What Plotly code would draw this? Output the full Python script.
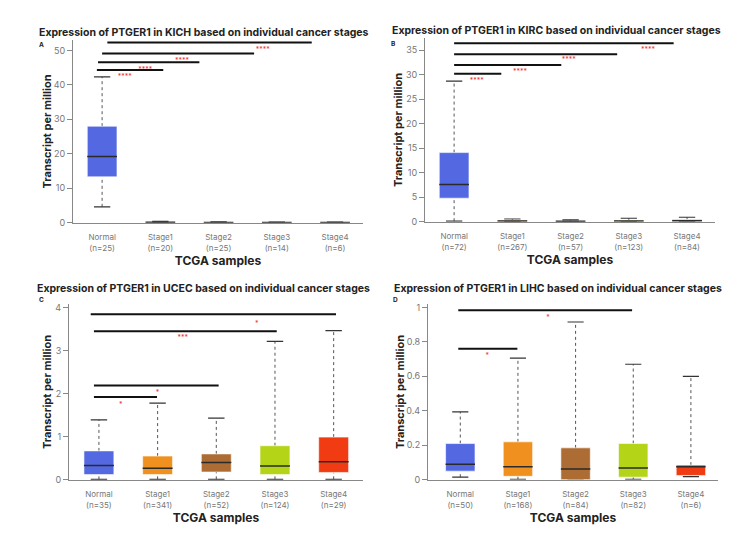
import plotly.graph_objects as go

# ---------------- data ----------------
stages = ["Normal", "Stage1", "Stage2", "Stage3", "Stage4"]
colors = ["#5468e2", "#f0901f", "#ad6c33", "#b3d417", "#f03b13"]

# Panel A: KICH
A_n = [25, 20, 25, 14, 6]
A_lo = [4.6, 0.05, 0.02, 0.02, 0.02]
A_q1 = [13.3, 0.08, 0.05, 0.04, 0.04]
A_med = [19.2, 0.12, 0.08, 0.07, 0.06]
A_q3 = [28.0, 0.2, 0.12, 0.1, 0.09]
A_hi = [42.3, 0.35, 0.2, 0.18, 0.15]
A_sig_y = [44.3, 46.6, 49.1, 52.3]
A_sig_x0 = [-0.09, -0.07, 0.0, 0.09]
A_sig_x1 = [1.05, 1.67, 2.61, 3.6]
A_star_x = [0.39, 0.74, 1.37, 2.76]
A_star_y = [43.1, 45.4, 48.0, 51.1]
A_star = ["****", "****", "****", "****"]

# Panel B: KIRC
B_n = [72, 267, 57, 123, 84]
B_lo = [0.1, 0.02, 0.02, 0.02, 0.02]
B_q1 = [4.8, 0.08, 0.05, 0.08, 0.1]
B_med = [7.6, 0.15, 0.1, 0.15, 0.2]
B_q3 = [14.1, 0.3, 0.2, 0.3, 0.45]
B_hi = [28.7, 0.55, 0.35, 0.7, 0.9]
B_sig_y = [30.2, 32.0, 34.2, 36.4]
B_sig_x0 = [0.0, 0.0, 0.0, 0.0]
B_sig_x1 = [0.81, 1.84, 2.8, 3.77]
B_star_x = [0.39, 1.13, 1.97, 3.33]
B_star_y = [29.4, 31.2, 33.6, 35.8]
B_star = ["****", "****", "****", "****"]

# Panel C: UCEC
C_n = [35, 341, 52, 124, 29]
C_lo = [0.01, 0.01, 0.01, 0.01, 0.01]
C_q1 = [0.12, 0.12, 0.18, 0.12, 0.17]
C_med = [0.33, 0.27, 0.4, 0.32, 0.42]
C_q3 = [0.67, 0.55, 0.6, 0.79, 0.99]
C_hi = [1.39, 1.78, 1.43, 3.21, 3.46]
C_sig_y = [1.92, 2.19, 3.45, 3.84]
C_sig_x0 = [-0.085, -0.085, -0.085, -0.14]
C_sig_x1 = [0.99, 2.04, 3.03, 4.04]
C_star_x = [0.37, 1.0, 1.43, 2.69]
C_star_y = [1.8, 2.1, 3.36, 3.7]
C_star = ["*", "*", "***", "*"]

# Panel D: LIHC
D_n = [50, 168, 84, 82, 6]
D_lo = [0.015, 0.003, 0.0, 0.003, 0.018]
D_q1 = [0.05, 0.02, 0.0, 0.015, 0.025]
D_med = [0.09, 0.075, 0.063, 0.068, 0.075]
D_q3 = [0.21, 0.22, 0.185, 0.21, 0.085]
D_hi = [0.394, 0.705, 0.915, 0.67, 0.6]
D_sig_y = [0.76, 0.983]
D_sig_x0 = [-0.035, -0.035]
D_sig_x1 = [0.99, 2.98]
D_star_x = [0.47, 1.52]
D_star_y = [0.737, 0.96]
D_star = ["*", "*"]

W, H = 750, 535
FONT = "Inter, Arial, sans-serif"

panels = [
    dict(code="KICH", letter="A", n=A_n, lo=A_lo, q1=A_q1, med=A_med, q3=A_q3, hi=A_hi,
         sy=A_sig_y, sx0=A_sig_x0, sx1=A_sig_x1, stx=A_star_x, sty=A_star_y, st=A_star,
         px=(73, 363), py=(38, 223), xr=(-0.5, 4.48), yr=(0, 52.9), ytv=[0, 10, 20, 30, 40, 50],
         ytt=["0", "10", "20", "30", "40", "50"], title_xy=(37, 30), letter_xy=(37, 43), ytitle_x=47),
    dict(code="KIRC", letter="B", n=B_n, lo=B_lo, q1=B_q1, med=B_med, q3=B_q3, hi=B_hi,
         sy=B_sig_y, sx0=B_sig_x0, sx1=B_sig_x1, stx=B_star_x, sty=B_star_y, st=B_star,
         px=(425, 715), py=(36, 222), xr=(-0.5, 4.48), yr=(0, 37.4), ytv=[0, 5, 10, 15, 20, 25, 30, 35],
         ytt=["0", "5", "10", "15", "20", "25", "30", "35"], title_xy=(390, 28), letter_xy=(389, 42), ytitle_x=398),
    dict(code="UCEC", letter="C", n=C_n, lo=C_lo, q1=C_q1, med=C_med, q3=C_q3, hi=C_hi,
         sy=C_sig_y, sx0=C_sig_x0, sx1=C_sig_x1, stx=C_star_x, sty=C_star_y, st=C_star,
         px=(69, 363), py=(306, 484), xr=(-0.51, 4.5), yr=(0, 4.07), ytv=[0, 1, 2, 3, 4],
         ytt=["0", "1", "2", "3", "4"], title_xy=(35, 290), letter_xy=(37, 302), ytitle_x=47),
    dict(code="LIHC", letter="D", n=D_n, lo=D_lo, q1=D_q1, med=D_med, q3=D_q3, hi=D_hi,
         sy=D_sig_y, sx0=D_sig_x0, sx1=D_sig_x1, stx=D_star_x, sty=D_star_y, st=D_star,
         px=(428, 718), py=(306, 484), xr=(-0.56, 4.47), yr=(0, 1.017), ytv=[0, 0.2, 0.4, 0.6, 0.8, 1],
         ytt=["0", "0.2", "0.4", "0.6", "0.8", "1"], title_xy=(392, 290), letter_xy=(391, 302), ytitle_x=400),
]

fig = go.Figure()
layout = dict(width=W, height=H, margin=dict(l=0, r=0, t=0, b=0), showlegend=False,
              paper_bgcolor="white", plot_bgcolor="white", font=dict(family=FONT))
annotations = []
shapes = []
BW = 0.255
CW = 0.14

for k, p in enumerate(panels):
    sfx = "" if k == 0 else str(k + 1)
    xa, ya = "x" + sfx, "y" + sfx
    xdom = [p["px"][0] / W, p["px"][1] / W]
    ydom = [(H - p["py"][1]) / H, (H - p["py"][0]) / H]
    layout["xaxis" + sfx] = dict(domain=xdom, range=list(p["xr"]), anchor=ya,
                                 showgrid=False, zeroline=False, showline=True, linecolor="#888",
                                 linewidth=1, tickmode="array", tickvals=list(range(5)),
                                 ticktext=[f"{s}<br>({'n=' + str(n)})" for s, n in zip(stages, p["n"])],
                                 ticks="", ticklabelstandoff=7, tickfont=dict(size=8, color="#777", family=FONT),
                                 title=dict(text="<b>TCGA samples</b>", font=dict(size=12, color="#222"), standoff=2),
                                 fixedrange=True)
    layout["yaxis" + sfx] = dict(domain=ydom, range=list(p["yr"]), anchor=xa,
                                 showgrid=False, zeroline=False, showline=True, linecolor="#888",
                                 linewidth=1, tickmode="array", tickvals=p["ytv"], ticktext=p["ytt"],
                                 ticks="outside", ticklen=5, tickcolor="#888",
                                 tickfont=dict(size=9, color="#777", family=FONT), fixedrange=True)
    # y title as annotation
    annotations.append(dict(text="<b>Transcript per million</b>", xref="paper", yref="paper",
                            x=p["ytitle_x"] / W, y=(H - (p["py"][0] + p["py"][1]) / 2) / H,
                            textangle=-90, showarrow=False, font=dict(size=11, color="#222", family=FONT),
                            xanchor="center", yanchor="middle"))
    # title
    annotations.append(dict(text=f"<b>Expression of PTGER1 in {p['code']} based on individual cancer stages</b>",
                            xref="paper", yref="paper", x=p["title_xy"][0] / W, y=(H - p["title_xy"][1]) / H,
                            xanchor="left", yanchor="middle", showarrow=False,
                            font=dict(size=10.5, color="#222", family=FONT)))
    annotations.append(dict(text=f"<b>{p['letter']}</b>", xref="paper", yref="paper",
                            x=p["letter_xy"][0] / W, y=(H - p["letter_xy"][1]) / H,
                            xanchor="left", yanchor="middle", showarrow=False,
                            font=dict(size=6.5, color="#222", family=FONT)))

    # whiskers (dotted) and caps
    wx, wy, cx, cy = [], [], [], []
    for i in range(5):
        wx += [i, i, None, i, i, None]
        wy += [p["q3"][i], p["hi"][i], None, p["lo"][i], p["q1"][i], None]
        cx += [i - CW, i + CW, None, i - CW, i + CW, None]
        cy += [p["hi"][i], p["hi"][i], None, p["lo"][i], p["lo"][i], None]
    fig.add_trace(go.Scatter(x=wx, y=wy, mode="lines", xaxis=xa, yaxis=ya,
                             line=dict(color="#555", width=1, dash="dot"), hoverinfo="skip"))
    fig.add_trace(go.Scatter(x=cx, y=cy, mode="lines", xaxis=xa, yaxis=ya,
                             line=dict(color="#333", width=1.2), hoverinfo="skip"))
    # boxes
    for i in range(5):
        fig.add_trace(go.Scatter(
            x=[i - BW, i + BW, i + BW, i - BW, i - BW],
            y=[p["q1"][i], p["q1"][i], p["q3"][i], p["q3"][i], p["q1"][i]],
            mode="lines", fill="toself", fillcolor=colors[i],
            line=dict(color="rgba(255,255,255,0.6)", width=1), xaxis=xa, yaxis=ya, hoverinfo="skip"))
        fig.add_trace(go.Scatter(x=[i - BW, i + BW], y=[p["med"][i], p["med"][i]], mode="lines",
                                 line=dict(color="#2a2a2a", width=1.5), xaxis=xa, yaxis=ya, hoverinfo="skip"))
    # significance bars
    for x0, x1, yv in zip(p["sx0"], p["sx1"], p["sy"]):
        shapes.append(dict(type="line", xref=xa, yref=ya, x0=x0, x1=x1, y0=yv, y1=yv,
                           line=dict(color="#111", width=2)))
    fig.add_trace(go.Scatter(x=p["stx"], y=p["sty"], mode="text", text=p["st"], xaxis=xa, yaxis=ya,
                             textposition="bottom center",
                             textfont=dict(color="#ee3333", size=7), cliponaxis=False, hoverinfo="skip"))

layout["annotations"] = annotations
layout["shapes"] = shapes
fig.update_layout(**layout)
fig.write_html("out.html")
